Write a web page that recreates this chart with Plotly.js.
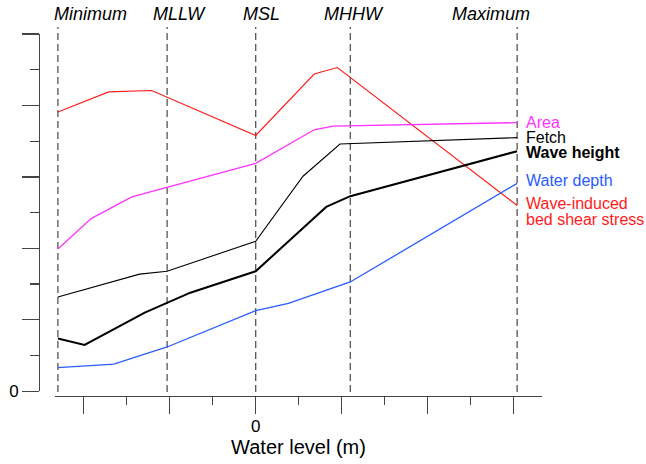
<!DOCTYPE html>
<html>
<head>
<meta charset="utf-8">
<script src="https://cdn.plot.ly/plotly-3.0.1.min.js"></script>
<style>html,body{margin:0;padding:0;background:#fff;}#chart{width:646px;height:464px;}</style>
</head>
<body>
<div id="chart"></div>
<script>
// Reference water levels (m, relative to MSL)
const levelNames = ['Minimum', 'MLLW', 'MSL', 'MHHW', 'Maximum'];
const levelX = [-2.30, -1.03, 0, 1.10, 3.04];

// Series (normalised units)
const shearX = [-2.30, -1.71, -1.21, 0, 0.68, 0.95, 3.04];
const shearY = [3.91, 4.19, 4.21, 3.58, 4.44, 4.53, 2.60];

const areaX = [-2.30, -1.91, -1.44, 0, 0.68, 0.90, 3.04];
const areaY = [1.99, 2.42, 2.72, 3.19, 3.66, 3.71, 3.76];

const fetchX = [-2.30, -1.35, -1.03, 0, 0.55, 0.98, 3.04];
const fetchY = [1.32, 1.64, 1.68, 2.10, 3.01, 3.46, 3.55];

const waveX = [-2.30, -1.99, -1.29, -0.76, 0, 0.82, 1.10, 3.04];
const waveY = [0.74, 0.65, 1.10, 1.38, 1.68, 2.58, 2.73, 3.36];

const depthX = [-2.30, -1.65, -1.03, 0, 0.38, 1.10, 3.04];
const depthY = [0.33, 0.38, 0.62, 1.13, 1.23, 1.53, 2.91];

const seriesNames = ['Area', 'Fetch', '<b>Wave height</b>', 'Water depth', 'Wave-induced'];

const FONT = 'Liberation Sans, Arial, Helvetica, sans-serif';
const W = 646, H = 464;
const mL = 39, mR = 104, mT = 34, mB = 68;
const paperW = W - mL - mR, paperH = H - mT - mB;

const series = [
  {x: shearX, y: shearY, color: '#ff1a1a', width: 1.1, label: seriesNames[4], ys: 2},
  {x: areaX, y: areaY, color: '#ff33ff', width: 1.3, label: seriesNames[0], ys: 0},
  {x: fetchX, y: fetchY, color: '#000000', width: 1.1, label: seriesNames[1], ys: 0},
  {x: waveX, y: waveY, color: '#000000', width: 2, label: seriesNames[2], ys: -1},
  {x: depthX, y: depthY, color: '#2a5cff', width: 1.3, label: seriesNames[3], ys: 3}
];

const traces = series.map(s => ({
  type: 'scatter', mode: 'lines', x: s.x, y: s.y,
  line: {color: s.color, width: s.width}, hoverinfo: 'skip', showlegend: false
}));

const annotations = [];
series.forEach(s => {
  const n = s.x.length - 1;
  annotations.push({
    x: s.x[n], y: s.y[n], xref: 'x', yref: 'y', text: s.label,
    showarrow: false, xanchor: 'left', yanchor: 'middle', xshift: 7, yshift: s.ys,
    font: {family: FONT, size: 16, color: s.color}
  });
});
// second line of the shear-stress label
annotations.push({
  x: shearX[shearX.length - 1], y: shearY[shearY.length - 1], xref: 'x', yref: 'y',
  text: 'bed shear stress', showarrow: false, xanchor: 'left', yanchor: 'middle',
  xshift: 7, yshift: 2 - 15.5, font: {family: FONT, size: 16, color: '#ff1a1a'}
});

const labelShift = [32.7, 12, 6, 4, -26];
levelNames.forEach((name, i) => {
  annotations.push({
    x: levelX[i], y: 1, xref: 'x', yref: 'paper', text: '<i>' + name + '</i>',
    showarrow: false, xanchor: 'center', yanchor: 'middle', xshift: labelShift[i],
    yshift: (mT - 13.5), font: {family: FONT, size: 18, color: '#000'}
  });
});

const shapes = levelX.map(x => ({
  type: 'line', xref: 'x', yref: 'paper', x0: x, x1: x,
  y0: 4 / paperH, y1: 1 + 7 / paperH,
  line: {color: '#555555', width: 1.3, dash: '7px,4px'}, layer: 'below'
}));

const layout = {
  width: W, height: H,
  margin: {l: mL, r: mR, t: mT, b: mB, pad: 0},
  paper_bgcolor: '#fff', plot_bgcolor: 'rgba(0,0,0,0)',
  font: {family: FONT, size: 16, color: '#000'},
  showlegend: false,
  xaxis: {
    domain: [16 / paperW, 1], anchor: 'free', position: 0,
    range: [(55 - 255.7) / 86, (542 - 255.7) / 86],
    showgrid: false, zeroline: false, showline: true, linecolor: '#444', linewidth: 1.3,
    ticks: 'outside', ticklen: 17, tickwidth: 1.3, tickcolor: '#444',
    tickmode: 'array', tickvals: [-2, -1, 0, 1, 2, 3], ticktext: ['', '', '0', '', '', ''],
    minor: {tickmode: 'linear', tick0: 0, dtick: 0.5, ticklen: 8, tickwidth: 1.3, tickcolor: '#444', showgrid: false},
    tickfont: {family: FONT, size: 17, color: '#000'},
    ticklabelstandoff: -3,
    title: {text: 'Water level (m)', font: {family: FONT, size: 20, color: '#000'}, standoff: 1},
    fixedrange: true
  },
  yaxis: {
    domain: [4.7 / paperH, 1], anchor: 'free', position: 0,
    range: [0, 5],
    showgrid: false, zeroline: false, showline: true, linecolor: '#444', linewidth: 1.3,
    ticks: 'outside', ticklen: 17, tickwidth: 1.3, tickcolor: '#444',
    tickmode: 'array', tickvals: [0, 1, 2, 3, 4, 5], ticktext: ['0', '', '', '', '', ''],
    minor: {tickmode: 'linear', tick0: 0, dtick: 0.5, ticklen: 9, tickwidth: 1.3, tickcolor: '#444', showgrid: false},
    tickfont: {family: FONT, size: 17, color: '#000'},
    fixedrange: true
  },
  shapes: shapes,
  annotations: annotations
};

Plotly.newPlot('chart', traces, layout, {staticPlot: true, displayModeBar: false});
</script>
</body>
</html>
